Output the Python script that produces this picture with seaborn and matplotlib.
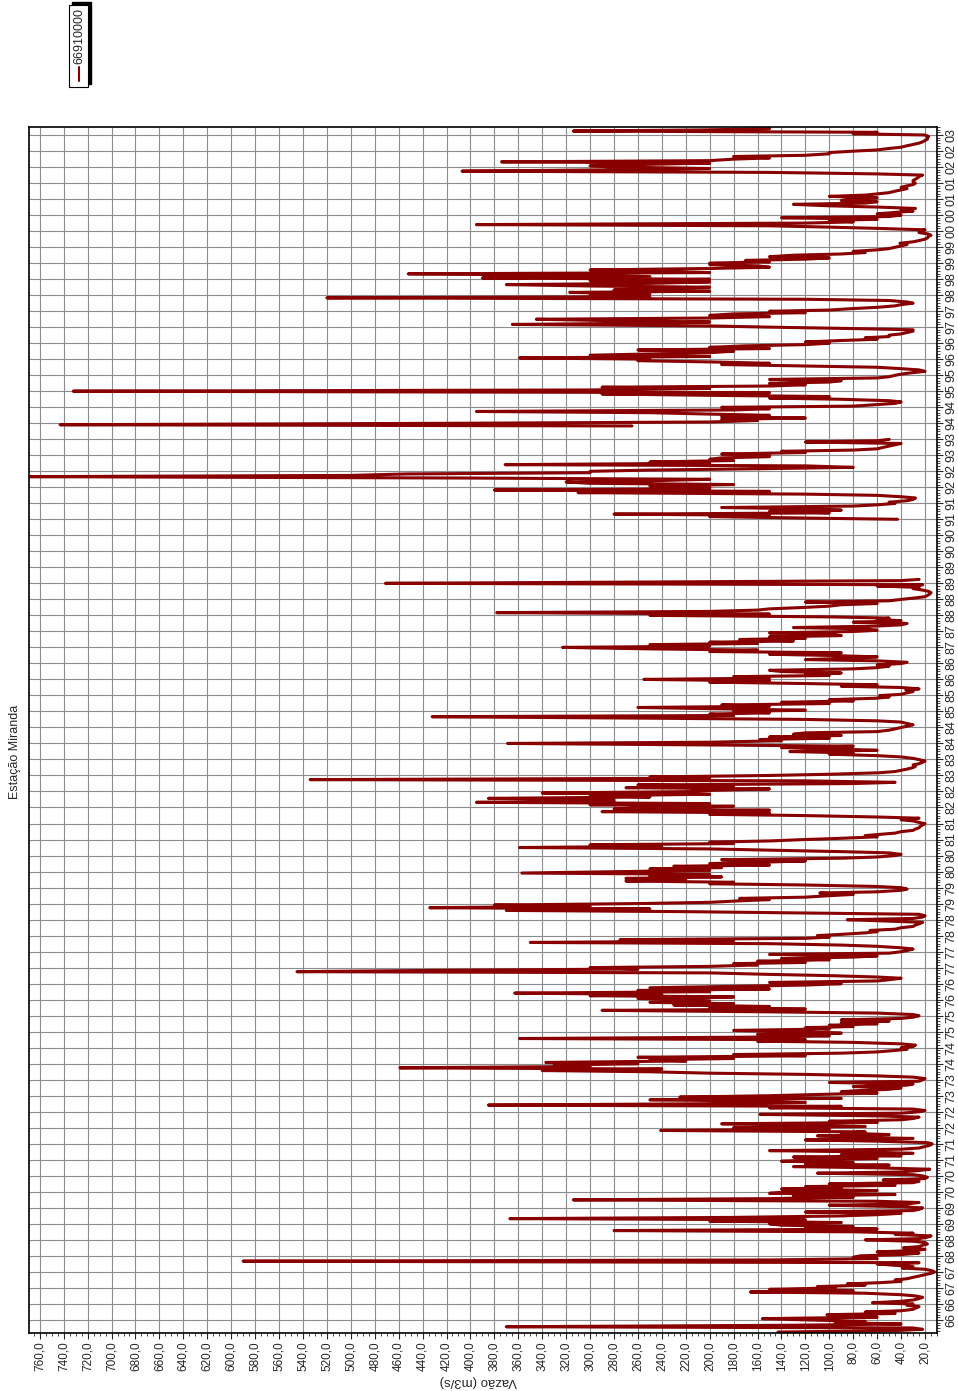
"""Hydrograph of the Miranda station (66910000), drawn turned on its side like the original print."""

import matplotlib
matplotlib.use('agg')
import matplotlib.pyplot as plt
from matplotlib.patches import Rectangle
from matplotlib.lines import Line2D
from matplotlib.ticker import MultipleLocator, FuncFormatter
import numpy as np
import pandas as pd
import seaborn as sns

nan = np.nan

station_code = '66910000'
title = 'Estação Miranda'
value_label = 'Vazão (m3/s)'

# Semi-monthly flow readings (m3/s), one row per year (1st and 15th of each month)
flow_1965_1969 = [
    [nan] * 15 + [143, 45, 22, 30, 370, 130, 40, 95, 70],
    [120, 156, 60, 90, 102, 45, 70, 40, 30, 28, 25, 35, 30, 64, 40, 30, 25, 22, 28, 40, 70, 166, 80, 150],
    [95, 110, 70, 85, 58, 40, 45, 35, 30, 25, 20, 15, 12, 14, 20, 39, 30, 45, 60, 25, 590, 150, 60, 80],
    [74, 40, 25, 60, 30, 20, 38, 25, 22, 18, 20, 30, 70, 25, 18, 15, 45, 30, 80, 280, 60, 120, 80, 140],
    [150, 90, 200, 120, 367, 180, 90, 60, 40, 120, 30, 25, 22, 40, 100, 35, 25, 60, 314, 150, 80, 130, 45, 150],
]
flow_1970_1974 = [
    [130, 60, 140, 90, 120, 45, 100, 30, 25, 55, 20, 18, 22, 30, 110, 40, 25, 16, 60, 130, 50, 120, 80, 140],
    [110, 60, 130, 40, 90, 30, 70, 150, 40, 25, 20, 16, 14, 18, 60, 120, 30, 80, 110, 50, 90, 70, 241, 100],
    [180, 70, 130, 190, 60, 100, 40, 30, 25, 60, 158, 40, 25, 20, 30, 150, 90, 385, 200, 120, 170, 250, 90, 225],
    [150, 110, 60, 90, 75, 50, 40, 80, 35, 30, 100, 25, 22, 20, 30, 60, 120, 200, 250, 340, 240, 459, 300, 330],
    [260, 337, 220, 250, 180, 260, 120, 180, 90, 60, 45, 35, 40, 30, 28, 40, 80, 160, 120, 359, 150, 100, 160, 90],
]
flow_1975_1979 = [
    [130, 180, 100, 120, 80, 100, 60, 90, 50, 90, 40, 30, 25, 30, 60, 150, 290, 120, 200, 150, 230, 180, 250, 200],
    [220, 260, 180, 300, 240, 363, 200, 260, 150, 250, 180, 120, 90, 150, 60, 50, 40, 60, 100, 150, 200, 545, 420, 260],
    [300, 200, 160, 180, 120, 160, 100, 140, 80, 60, 150, 50, 40, 35, 30, 40, 60, 90, 150, 350, 180, 275, 120, 100],
    [110, 90, 70, 60, 66, 45, 40, 30, 28, 25, 22, 50, 85, 30, 22, 20, 25, 120, 220, 370, 250, 434, 300, 380],
    [260, 200, 175, 150, 175, 120, 100, 80, 108, 60, 40, 35, 40, 60, 120, 200, 180, 270, 220, 270, 190, 250, 200, 357],
]
flow_1980_1984 = [
    [270, 200, 250, 190, 230, 150, 200, 160, 120, 190, 90, 60, 45, 40, 50, 90, 150, 200, 359, 240, 300, 180, 200, 150],
    [120, 90, 60, 70, 58, 45, 40, 30, 28, 25, 24, 22, 20, 25, 30, 40, 25, 60, 120, 200, 150, 290, 150, 280],
    [250, 180, 300, 200, 395, 280, 280, 385, 250, 300, 200, 340, 220, 200, 150, 270, 180, 260, 80, 45, 120, 534, 200, 250],
    [150, 100, 58, 45, 40, 35, 30, 28, 30, 25, 22, 20, 25, 30, 40, 60, 100, 80, 133, 60, 100, 140, 80, 200],
    [369, 200, 140, 158, 100, 150, 90, 130, 120, 60, 50, 45, 40, 35, 30, 35, 40, 60, 120, 250, 432, 180, 200, 150],
]
flow_1985_1989 = [
    [180, 120, 200, 260, 150, 190, 100, 140, 80, 100, 60, 50, 58, 40, 35, 30, 36, 25, 40, 90, 60, 120, 200, 150],
    [255, 150, 180, 100, 120, 90, 140, 150, 80, 60, 50, 60, 40, 35, 60, 120, 80, 60, 100, 150, 90, 200, 160, 250],
    [323, 200, 250, 160, 200, 130, 175, 120, 150, 90, 100, 150, 80, 60, 70, 130, 60, 40, 35, 80, 40, 60, 50, 100],
    [250, 150, 378, 200, 160, 150, 120, 100, 90, 60, 120, 50, 40, 30, 20, 18, 16, 15, 17, 22, 30, 25, 60, 22],
    [471, 265, 40, 25] + [nan] * 20,
]
flow_1990_1994 = [
    [nan] * 24,
    [43, 120, 200, 150, 280, 100, 150, 90, 120, 190, 80, 60, 45, 50, 35, 30, 28, 40, 60, 120, 310, 150, 380, 200],
    [200, 250, 180, 300, 320, 250, 200, 400, 770, 500, 453, 300, 300, 250, 150, 80, 120, 371, 200, 250, 180, 200, 190, 150],
    [150, 190, 120, 140, 80, 60, 55, 50, 45, 40, 120, 60, 50, nan, nan, nan, nan, nan, nan, nan, nan, nan, 265, 743],
    [400, 200, 160, 190, 120, 190, 150, 200, 250, 395, 180, 150, 190, 80, 60, 45, 40, 50, 90, 150, 100, 200, 290, 150],
]
flow_1995_1999 = [
    [732, 300, 200, 290, 150, 120, 150, 100, 90, 150, 60, 50, 45, 40, 30, 20, 25, 40, 60, 120, 190, 150, 200, 260],
    [250, 359, 200, 300, 250, 200, 180, 260, 150, 200, 170, 120, 100, 120, 90, 60, 70, 50, 50, 40, 35, 30, 30, 80],
    [150, 200, 365, 250, 200, 280, 345, 200, 150, 200, 180, 120, 150, 100, 80, 60, 45, 40, 30, 35, 50, 120, 520, 250],
    [300, 250, 317, 200, 280, 250, 200, 300, 370, 250, 200, 300, 200, 390, 250, 300, 452, 200, 250, 300, 200, 150, 160, 200],
    [200, 150, 170, 120, 100, 150, 130, 90, 70, 80, 60, 50, 45, 40, 35, 41, 30, 25, 20, 18, 17, 15, 18, 25],
]
flow_2000_2003 = [
    [25, 20, 60, 100, 150, 395, 120, 80, 100, 60, 140, 50, 40, 60, 45, 30, 40, 28, 60, 100, 130, 70, 60, 90],
    [80, 60, 100, 70, 60, 50, 45, 40, 35, 40, 35, 30, 28, 30, 30, 28, 26, 25, 22, 60, 150, 407, 283, 200],
    [280, 300, 250, 200, 374, 200, 180, 150, 180, 120, 100, 100, 80, 60, 50, 40, 35, 30, 25, 22, 20, 18, 18, 17],
    [20, 80, 60, 314, 200, 150],
]

periods = [(1965, flow_1965_1969), (1970, flow_1970_1974), (1975, flow_1975_1979), (1980, flow_1980_1984),
           (1985, flow_1985_1989), (1990, flow_1990_1994), (1995, flow_1995_1999), (2000, flow_2000_2003)]


def build_frame():
    """Turn the yearly rows into one frame with a decimal-year column and a segment id for each gap"""
    frames = []
    for first_year, rows in periods:
        for i, row in enumerate(rows):
            dates = pd.date_range('%d-01-01' % (first_year + i), periods=len(row), freq='SMS')
            frames.append(pd.DataFrame({'date': dates, 'flow': row}))
    df = pd.concat(frames, ignore_index=True)
    df['year'] = df['date'].dt.year + (df['date'].dt.dayofyear - 1) / 365.25
    df['segment'] = df['flow'].isna().cumsum()
    return df.dropna(subset=['flow'])


df = build_frame()

sns.set_style('white')
plt.rcParams['font.family'] = ['Liberation Sans', 'DejaVu Sans']

W, H = 958, 1391
fig = plt.figure(figsize=(W / 100, H / 100), dpi=100)
ax = fig.add_axes([29 / W, 1 - 1333 / H, (937 - 29) / W, (1333 - 127) / H])

sns.lineplot(data=df, x='flow', y='year', units='segment', estimator=None, sort=False, orient='y',
             color='#880000', lw=2.2, legend=False, ax=ax)

ax.set_xlim(769, 10)
ax.set_ylim(1965.59, 2003.25)

# value axis (along the bottom)
ax.set_xticks([v for v in range(20, 761, 20)])
ax.xaxis.set_minor_locator(MultipleLocator(5))
ax.xaxis.set_major_formatter(FuncFormatter(lambda v, p: ('%.1f' % v).replace('.', ',')))
ax.tick_params(axis='x', which='major', labelsize=8.5, rotation=90, length=4, width=0.8, pad=2,
               bottom=True, direction='out')
ax.tick_params(axis='x', which='minor', length=2, width=0.6, bottom=True, direction='out')

# time axis (along the right side)
ax.yaxis.tick_right()
ax.yaxis.set_major_locator(MultipleLocator(0.5))
ax.yaxis.set_minor_locator(MultipleLocator(1 / 12))
ax.yaxis.set_major_formatter(FuncFormatter(lambda v, p: '%02d' % (int(np.floor(v + 1e-6)) % 100)))
ax.tick_params(axis='y', which='major', labelsize=9, length=4, width=0.8, pad=2, right=True, left=False,
               direction='out')
ax.tick_params(axis='y', which='minor', length=2, width=0.6, right=True, left=False, direction='out')
for lab in ax.get_yticklabels():
    lab.set_rotation(90)
    lab.set_verticalalignment('center')

ax.grid(True, which='major', color='#8c8c8c', lw=0.8)
ax.set_axisbelow(True)
for side in ['left', 'right', 'top', 'bottom']:
    ax.spines[side].set_visible(True)
    ax.spines[side].set_color('black')
    ax.spines[side].set_linewidth(1.2)
ax.set_xlabel('')
ax.set_ylabel('')

fig.text(478 / W, 1 - 1381 / H, value_label, rotation=180, ha='center', va='center', fontsize=9.5)
fig.text(15 / W, 1 - 752 / H, title, rotation=90, ha='center', va='center', fontsize=9)

# legend box, turned like the rest of the print
def fx(px):
    return px / W


def fy(py):
    return 1 - py / H


fig.add_artist(Rectangle((fx(72), fy(84)), fx(91) - fx(72), fy(2) - fy(84), transform=fig.transFigure,
                         facecolor='black', edgecolor='black'))
fig.add_artist(Rectangle((fx(69), fy(87)), fx(88) - fx(69), fy(5) - fy(87), transform=fig.transFigure,
                         facecolor='white', edgecolor='black', lw=0.8))
fig.add_artist(Line2D([fx(78.5), fx(78.5)], [fy(81), fy(67)], transform=fig.transFigure, color='#880000', lw=1.5))
fig.text(fx(79), fy(36), station_code, rotation=90, ha='center', va='center', fontsize=9)

fig.savefig('out.png', dpi=100)
